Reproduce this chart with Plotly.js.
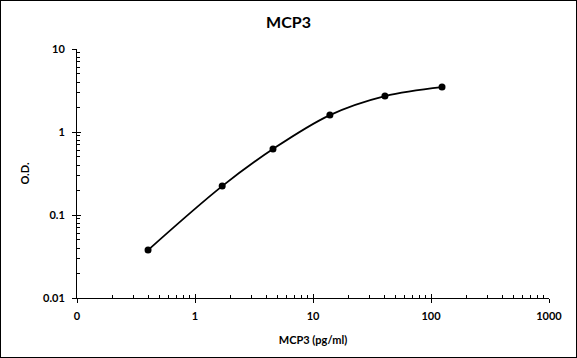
<!DOCTYPE html>
<html>
<head>
<meta charset="utf-8">
<script src="https://cdn.plot.ly/plotly-3.0.1.min.js"></script>
<style>
html,body{margin:0;padding:0;background:#fff;}
#wrap{position:relative;width:577px;height:358px;}
#chart{width:577px;height:358px;}
#frame{position:absolute;left:0;top:0;width:575px;height:356px;border:1px solid #000;pointer-events:none;}
</style>
</head>
<body>
<div id="wrap"><div id="chart"></div><div id="frame"></div></div>
<script>
// Data
const concentration = [0.40, 1.70, 4.58, 13.9, 40.7, 124];
const od = [0.0378, 0.223, 0.624, 1.60, 2.71, 3.48];

const xTickVals = [0.1, 1, 10, 100, 1000];
const xTickText = ['0', '1', '10', '100', '1000'];
const yTickVals = [0.01, 0.1, 1, 10];
const yTickText = ['0.01', '0.1', '1', '10'];

function minorVals(lo, hi) {
  const v = [];
  for (let e = lo; e < hi; e++) {
    for (let d = 2; d <= 9; d++) v.push(d * Math.pow(10, e));
  }
  return v;
}

const FONT = 'Lato, "Open Sans", Arial, sans-serif';

const trace = {
  x: concentration,
  y: od,
  type: 'scatter',
  mode: 'lines+markers',
  line: {color: '#000', width: 1.8, shape: 'spline', smoothing: 1},
  marker: {color: '#000', size: 7},
  showlegend: false,
  hoverinfo: 'x+y'
};

const dummy = {
  x: [1], y: [1], xaxis: 'x2', yaxis: 'y2', mode: 'markers',
  marker: {opacity: 0}, showlegend: false, hoverinfo: 'skip'
};

const axisCommon = {
  type: 'log',
  showgrid: false,
  zeroline: false,
  showline: true,
  linecolor: '#000',
  linewidth: 1,
  ticks: 'outside',
  ticklen: 4,
  tickcolor: '#000',
  tickwidth: 1,
  tickmode: 'array',
  tickfont: {family: FONT, size: 11, color: '#000', weight: 'bold'}
};

const layout = {
  width: 577,
  height: 358,
  margin: {l: 77, r: 28, t: 49, b: 60},
  paper_bgcolor: '#fff',
  plot_bgcolor: '#fff',
  title: {
    text: '<b>MCP3</b>',
    font: {family: FONT, size: 16, color: '#000'},
    x: 0.5, xref: 'container', xanchor: 'center',
    y: 1 - 22 / 358, yref: 'container', yanchor: 'middle'
  },
  xaxis: Object.assign({}, axisCommon, {
    range: [-1, 3],
    tickvals: xTickVals,
    ticktext: xTickText,
    ticklabelstandoff: 4,
    minor: {ticks: 'inside', ticklen: 3, tickcolor: '#000', tickwidth: 1,
            tickmode: 'array', tickvals: minorVals(-1, 3), showgrid: false},
    title: {text: '<b>MCP3 (pg/ml)</b>', font: {family: FONT, size: 11, color: '#000'}, standoff: 15}
  }),
  yaxis: Object.assign({}, axisCommon, {
    range: [-2, 1],
    tickvals: yTickVals,
    ticktext: yTickText,
    ticklabelstandoff: 5,
    minor: {ticks: 'inside', ticklen: 3, tickcolor: '#000', tickwidth: 1,
            tickmode: 'array', tickvals: minorVals(-2, 1), showgrid: false},
    title: {text: '<b>O.D.</b>', font: {family: FONT, size: 11, color: '#000'}, standoff: 11}
  }),
  xaxis2: {type: 'log', range: [-1, 3], overlaying: 'x', anchor: 'y2', side: 'bottom',
           showgrid: false, zeroline: false, showline: false, ticks: 'inside', ticklen: 4,
           tickcolor: '#000', tickmode: 'array', tickvals: xTickVals, showticklabels: false},
  yaxis2: {type: 'log', range: [-2, 1], overlaying: 'y', anchor: 'x2', side: 'left',
           showgrid: false, zeroline: false, showline: false, ticks: 'inside', ticklen: 4,
           tickcolor: '#000', tickmode: 'array', tickvals: yTickVals, showticklabels: false}
};

Plotly.newPlot('chart', [dummy, trace], layout, {displayModeBar: false, staticPlot: true});
</script>
</body>
</html>
